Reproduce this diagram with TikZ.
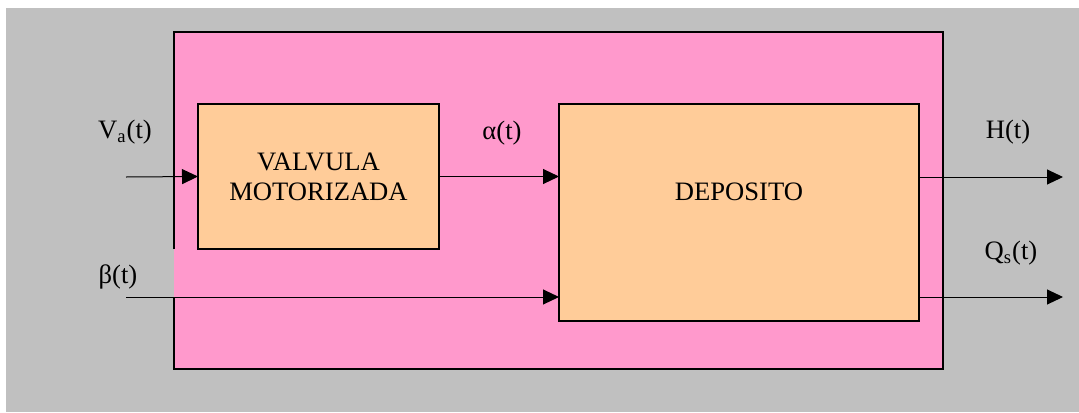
\documentclass[tikz,border=0pt]{standalone}
\usepackage{fontspec}
\setmainfont{Liberation Serif}
\usetikzlibrary{arrows.meta,positioning}
\definecolor{fondo}{HTML}{C0C0C0}
\definecolor{rosa}{HTML}{FF99CC}
\definecolor{melocoton}{HTML}{FFCC99}
\tikzset{
	texto/.style={font=\fontsize{13.3}{15}\selectfont, align=center},
	bloque/.style={texto, draw, fill=melocoton, line width=1pt, outer sep=0pt},
	senal/.style={line width=0.5pt, -{Triangle[length=8pt,width=7.5pt]}},
}

\begin{document}
\begin{tikzpicture}[x=0.5pt,y=-0.5pt]
			\useasboundingbox (0,0) rectangle (1079,412);
			\fill[fondo] (6,8) rectangle (1079,412);
			\fill[rosa] (174,32) rectangle (943,369);
			\draw[line width=1pt] (174,249) -- (174,32) -- (943,32) -- (943,369) -- (174,369) -- (174,297);
			\node[bloque, minimum width=120.5pt, minimum height=72.5pt] (valv) at (318.5,176.5) {VALVULA\\MOTORIZADA};
			\node[bloque, minimum width=180pt, minimum height=108.5pt] (dep) at (739,212.5) {};
			\node[texto] (deptxt) at (739,192) {DEPOSITO};
			\path
			(126,177) coordinate (Va)
			(126,297) coordinate (B)
			(1063,177) coordinate (H)
			(1063,297) coordinate (Qs)
			;
			\draw[senal] (Va) -- (valv.west);
			\draw[senal] (valv.east) -- (valv.east -| dep.west);
			\draw[senal] (B) -- (B -| dep.west);
			\draw[senal] (dep.east |- H) -- (H);
			\draw[senal] (dep.east |- Qs) -- (Qs);
			\foreach \n/\t/\x/\y in {va/V\textsubscript{a}(t)/125/132, be/β(t)/118/277, al/α(t)/502/133, h/H(t)/1008/132, qs/Q\textsubscript{s}(t)/1011/253} \node[texto] (l\n) at (\x,\y) {\t};
		\end{tikzpicture}
\end{document}
